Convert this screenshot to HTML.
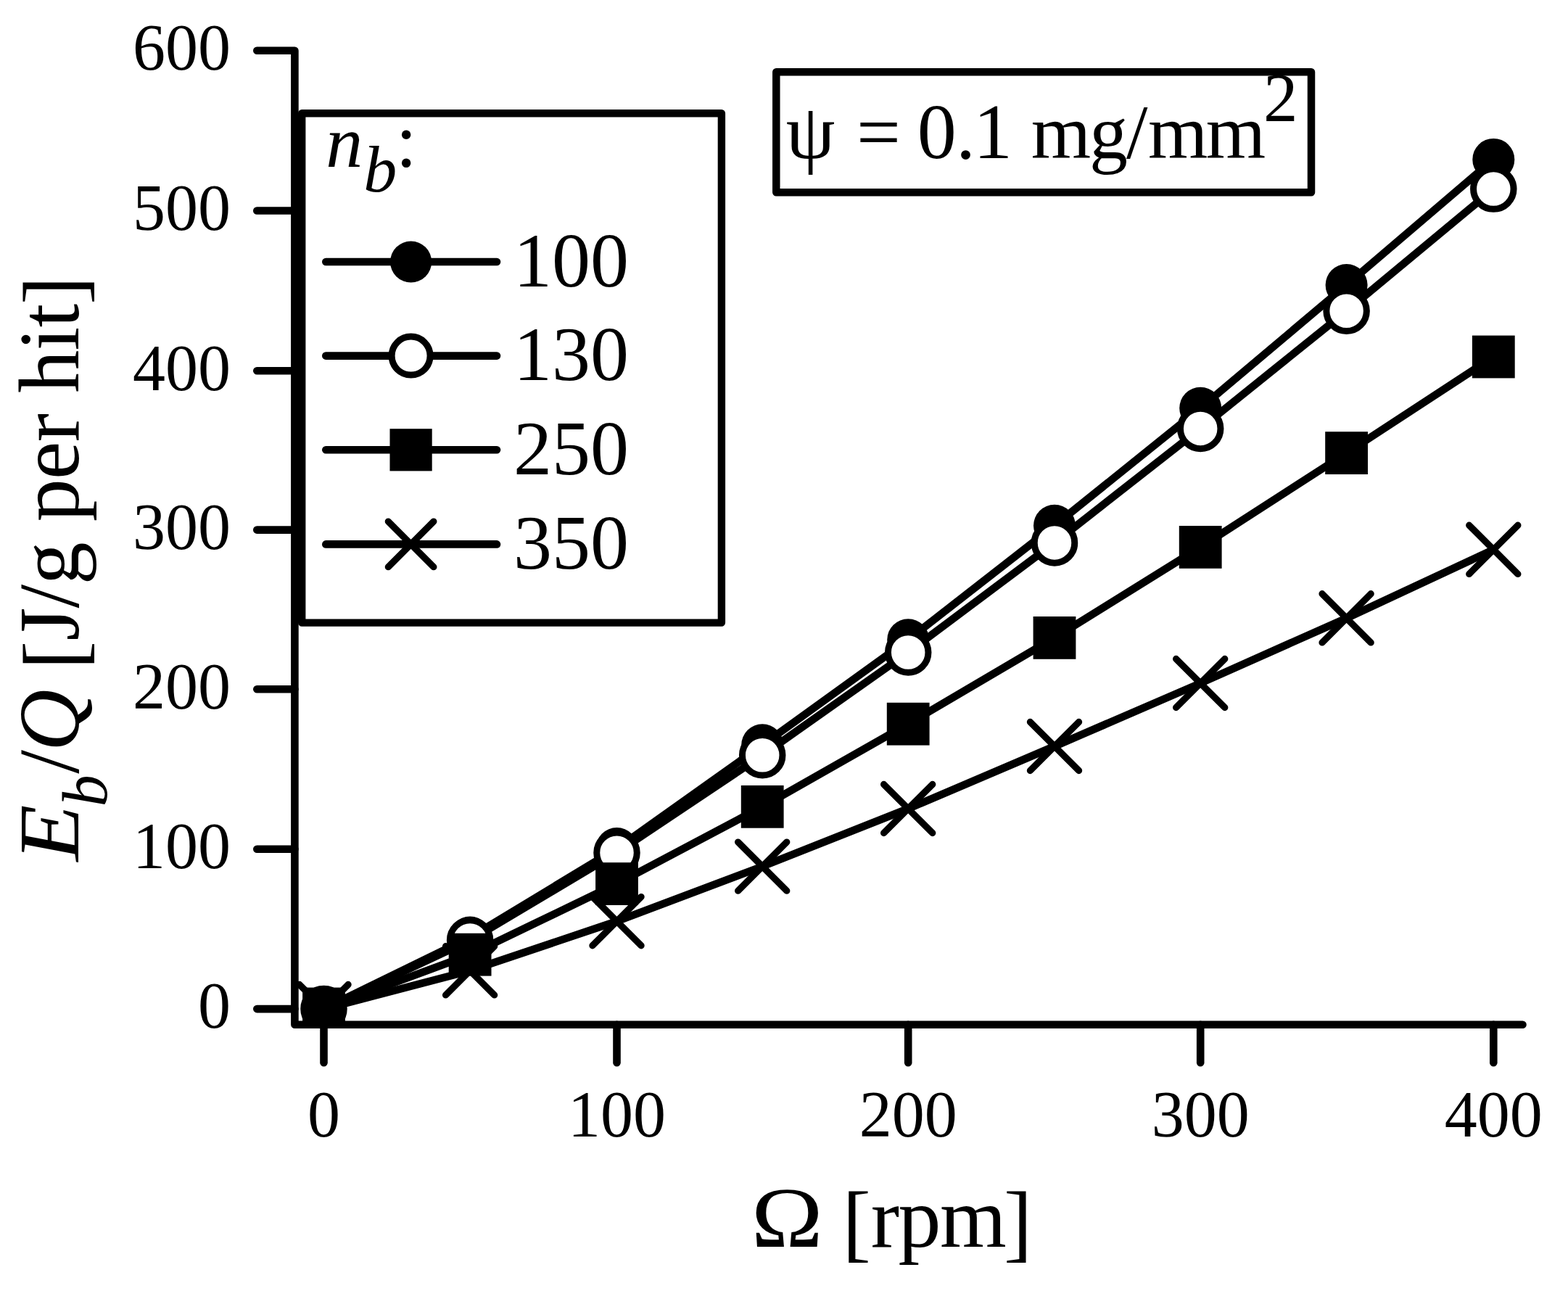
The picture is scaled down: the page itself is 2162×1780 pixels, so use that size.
<!DOCTYPE html>
<html><head><meta charset="utf-8"><style>
html,body{margin:0;padding:0;background:#fff;}
svg{display:block;}
text{font-family:"Liberation Serif","Times New Roman",serif;fill:#000;}
.tk{font-size:90px;}
.lg{font-size:106px;}
.ax{font-size:118px;}
</style></head><body>
<svg width="2162" height="1780" viewBox="0 0 2162 1780">
<rect width="2162" height="1780" fill="#fff"/>
<defs><clipPath id="pc"><rect x="406" y="0" width="1756" height="1412.8"/></clipPath></defs>
<g clip-path="url(#pc)"><polyline points="446.5,1391.0 648.1,1292.5 850.5,1170.0 1051.2,1027.3 1252.2,882.2 1454.0,724.8 1655.2,562.8 1856.6,393.0 2059.3,219.9" fill="none" stroke="#000" stroke-width="10.6" stroke-linejoin="round" stroke-linecap="round"/>
<circle cx="446.5" cy="1391.0" r="29.0"/>
<circle cx="648.1" cy="1292.5" r="29.0"/>
<circle cx="850.5" cy="1170.0" r="29.0"/>
<circle cx="1051.2" cy="1027.3" r="29.0"/>
<circle cx="1252.2" cy="882.2" r="29.0"/>
<circle cx="1454.0" cy="724.8" r="29.0"/>
<circle cx="1655.2" cy="562.8" r="29.0"/>
<circle cx="1856.6" cy="393.0" r="29.0"/>
<circle cx="2059.3" cy="219.9" r="29.0"/>
<polyline points="446.5,1391.0 648.1,1296.4 850.5,1175.7 1051.2,1041.3 1252.2,899.5 1454.0,748.4 1655.2,590.9 1856.6,428.8 2059.3,260.6" fill="none" stroke="#000" stroke-width="10.6" stroke-linejoin="round" stroke-linecap="round"/>
<circle cx="446.5" cy="1391.0" r="27.75" fill="#fff" stroke="#000" stroke-width="9.0"/>
<circle cx="648.1" cy="1296.4" r="27.75" fill="#fff" stroke="#000" stroke-width="9.0"/>
<circle cx="850.5" cy="1175.7" r="27.75" fill="#fff" stroke="#000" stroke-width="9.0"/>
<circle cx="1051.2" cy="1041.3" r="27.75" fill="#fff" stroke="#000" stroke-width="9.0"/>
<circle cx="1252.2" cy="899.5" r="27.75" fill="#fff" stroke="#000" stroke-width="9.0"/>
<circle cx="1454.0" cy="748.4" r="27.75" fill="#fff" stroke="#000" stroke-width="9.0"/>
<circle cx="1655.2" cy="590.9" r="27.75" fill="#fff" stroke="#000" stroke-width="9.0"/>
<circle cx="1856.6" cy="428.8" r="27.75" fill="#fff" stroke="#000" stroke-width="9.0"/>
<circle cx="2059.3" cy="260.6" r="27.75" fill="#fff" stroke="#000" stroke-width="9.0"/>
<polyline points="446.5,1391.0 648.1,1316.2 850.5,1218.6 1051.2,1112.3 1252.2,998.2 1454.0,879.4 1655.2,754.4 1856.6,624.6 2059.3,492.0" fill="none" stroke="#000" stroke-width="10.6" stroke-linejoin="round" stroke-linecap="round"/>
<rect x="417.1" y="1361.6" width="58.8" height="58.8"/>
<rect x="618.7" y="1286.8" width="58.8" height="58.8"/>
<rect x="821.1" y="1189.2" width="58.8" height="58.8"/>
<rect x="1021.8" y="1082.9" width="58.8" height="58.8"/>
<rect x="1222.8" y="968.8" width="58.8" height="58.8"/>
<rect x="1424.6" y="850.0" width="58.8" height="58.8"/>
<rect x="1625.8" y="725.0" width="58.8" height="58.8"/>
<rect x="1827.2" y="595.2" width="58.8" height="58.8"/>
<rect x="2029.9" y="462.6" width="58.8" height="58.8"/>
<polyline points="446.5,1391.0 648.1,1338.3 850.5,1270.2 1051.2,1194.6 1252.2,1115.0 1454.0,1029.0 1655.2,942.0 1856.6,852.3 2059.3,757.8" fill="none" stroke="#000" stroke-width="10.6" stroke-linejoin="round" stroke-linecap="round"/>
<path d="M412.9,1357.4L480.1,1424.6M412.9,1424.6L480.1,1357.4" stroke="#000" stroke-width="9.2" stroke-linecap="round" fill="none"/>
<path d="M614.5,1304.7L681.7,1371.9M614.5,1371.9L681.7,1304.7" stroke="#000" stroke-width="9.2" stroke-linecap="round" fill="none"/>
<path d="M816.9,1236.6L884.1,1303.8M816.9,1303.8L884.1,1236.6" stroke="#000" stroke-width="9.2" stroke-linecap="round" fill="none"/>
<path d="M1017.6,1161.0L1084.8,1228.2M1017.6,1228.2L1084.8,1161.0" stroke="#000" stroke-width="9.2" stroke-linecap="round" fill="none"/>
<path d="M1218.6,1081.4L1285.8,1148.6M1218.6,1148.6L1285.8,1081.4" stroke="#000" stroke-width="9.2" stroke-linecap="round" fill="none"/>
<path d="M1420.4,995.4L1487.6,1062.6M1420.4,1062.6L1487.6,995.4" stroke="#000" stroke-width="9.2" stroke-linecap="round" fill="none"/>
<path d="M1621.6,908.4L1688.8,975.6M1621.6,975.6L1688.8,908.4" stroke="#000" stroke-width="9.2" stroke-linecap="round" fill="none"/>
<path d="M1823.0,818.7L1890.2,885.9M1823.0,885.9L1890.2,818.7" stroke="#000" stroke-width="9.2" stroke-linecap="round" fill="none"/>
<path d="M2025.7,724.2L2092.9,791.4M2025.7,791.4L2092.9,724.2" stroke="#000" stroke-width="9.2" stroke-linecap="round" fill="none"/></g>
<path d="M354.3,69.8H406.4V1412.8H2099.5" fill="none" stroke="#000" stroke-width="10.6" stroke-linejoin="round" stroke-linecap="round"/>
<path d="M354.3,1391.1H406.4" stroke="#000" stroke-width="10.6" stroke-linecap="round"/>
<path d="M354.3,1170.7H406.4" stroke="#000" stroke-width="10.6" stroke-linecap="round"/>
<path d="M354.3,950.3H406.4" stroke="#000" stroke-width="10.6" stroke-linecap="round"/>
<path d="M354.3,730.6H406.4" stroke="#000" stroke-width="10.6" stroke-linecap="round"/>
<path d="M354.3,511.3H406.4" stroke="#000" stroke-width="10.6" stroke-linecap="round"/>
<path d="M354.3,290.5H406.4" stroke="#000" stroke-width="10.6" stroke-linecap="round"/>
<path d="M446.5,1412.8V1465.2" stroke="#000" stroke-width="10.6" stroke-linecap="round"/>
<path d="M850.5,1412.8V1465.2" stroke="#000" stroke-width="10.6" stroke-linecap="round"/>
<path d="M1252.2,1412.8V1465.2" stroke="#000" stroke-width="10.6" stroke-linecap="round"/>
<path d="M1655.2,1412.8V1465.2" stroke="#000" stroke-width="10.6" stroke-linecap="round"/>
<path d="M2059.3,1412.8V1465.2" stroke="#000" stroke-width="10.6" stroke-linecap="round"/>
<text x="318" y="1417.4" text-anchor="end" class="tk">0</text>
<text x="318" y="1197.0" text-anchor="end" class="tk">100</text>
<text x="318" y="976.6" text-anchor="end" class="tk">200</text>
<text x="318" y="756.9" text-anchor="end" class="tk">300</text>
<text x="318" y="537.6" text-anchor="end" class="tk">400</text>
<text x="318" y="316.8" text-anchor="end" class="tk">500</text>
<text x="318" y="96.0" text-anchor="end" class="tk">600</text>
<text x="446.5" y="1567" text-anchor="middle" class="tk">0</text>
<text x="850.5" y="1567" text-anchor="middle" class="tk">100</text>
<text x="1252.2" y="1567" text-anchor="middle" class="tk">200</text>
<text x="1655.2" y="1567" text-anchor="middle" class="tk">300</text>
<text x="2059.3" y="1567" text-anchor="middle" class="tk">400</text>
<rect x="416.2" y="156.2" width="578.7" height="702.4" fill="#fff" stroke="#000" stroke-width="10.4" stroke-linejoin="round"/>
<path d="M449.3,361.0H685" stroke="#000" stroke-width="10.6" stroke-linecap="round"/>
<circle cx="566.6" cy="361.0" r="28.5"/>
<text x="708" y="394.8" class="lg">100</text>
<path d="M449.3,490.6H685" stroke="#000" stroke-width="10.6" stroke-linecap="round"/>
<circle cx="566.6" cy="490.6" r="26.5" fill="#fff" stroke="#000" stroke-width="9.0"/>
<text x="708" y="524.4" class="lg">130</text>
<path d="M449.3,620.3H685" stroke="#000" stroke-width="10.6" stroke-linecap="round"/>
<rect x="537.5" y="591.2" width="58.2" height="58.2"/>
<text x="708" y="654.1" class="lg">250</text>
<path d="M449.3,750.4H685" stroke="#000" stroke-width="10.6" stroke-linecap="round"/>
<path d="M535.3,719.1L597.9,781.7M535.3,781.7L597.9,719.1" stroke="#000" stroke-width="9.2" stroke-linecap="round" fill="none"/>
<text x="708" y="784.2" class="lg">350</text>
<text class="lg" y="230"><tspan x="449.2" font-style="italic" font-size="102">n</tspan><tspan x="501.3" y="263.9" font-style="italic" font-size="92">b</tspan><tspan x="545.5" y="229.5">:</tspan></text>
<rect x="1070.3" y="99.3" width="737.7" height="166" fill="#fff" stroke="#000" stroke-width="10.5" stroke-linejoin="round"/><text y="217.5" style="font-size:108px"><tspan x="1083.8">ψ</tspan><tspan x="1181">=</tspan><tspan x="1264.7">0</tspan><tspan x="1317.9">.</tspan><tspan x="1342.1">1</tspan><tspan font-size="106" x="1421.8 1502 1552.9 1583.1 1662.8">mg/mm</tspan><tspan x="1742" y="166.5" font-size="95">2</tspan></text>
<text transform="translate(107.8,1191) rotate(-90) scale(1.083,1)" class="ax" font-style="italic" x="3.3" style="font-style:italic">E</text><text transform="translate(107.8,1191) rotate(-90)" class="ax"><tspan x="78.7" y="39" font-style="italic" font-size="88">b</tspan><tspan x="124.3" y="0">/</tspan><tspan x="155.3" font-style="italic">Q</tspan><tspan x="268.1" y="6">[</tspan><tspan y="0" letter-spacing="-0.7">J/g per hit</tspan><tspan x="770.9" y="6">]</tspan></text>
<text x="916.6" y="1719" class="ax" transform="scale(1.13,1)">Ω</text><text y="1719" class="ax"><tspan x="1161.5" y="1725">[</tspan><tspan y="1719" letter-spacing="-1.5">rpm</tspan><tspan x="1384" y="1725">]</tspan></text>
</svg>
</body></html>
